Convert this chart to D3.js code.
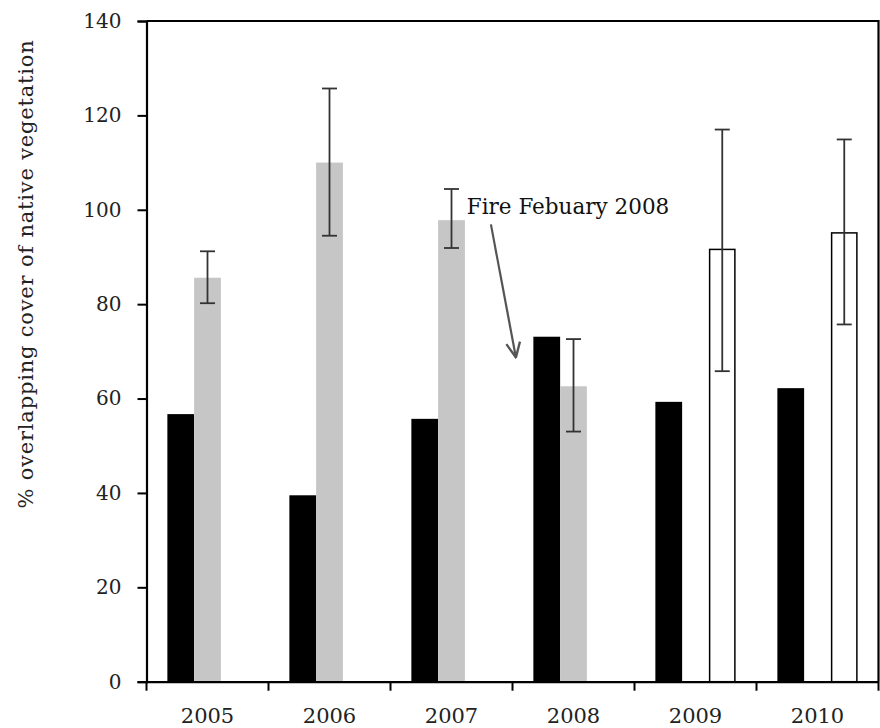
<!DOCTYPE html>
<html>
<head>
<meta charset="utf-8">
<script src="https://cdn.jsdelivr.net/npm/d3@7"></script>
<style>
  html, body { margin: 0; padding: 0; background: #fff; }
  svg { display: block; }
  text { font-family: "DejaVu Serif", "Liberation Serif", serif; }
</style>
</head>
<body>
<svg id="chart" width="880" height="728"></svg>
<script>
// ---- data ----
const years = ["2005", "2006", "2007", "2008", "2009", "2010"];
const seriesNames = ["black", "gray", "white"];
const blackValues = [56.7, 39.5, 55.7, 73.1, 59.3, 62.2];
const grayValues  = [85.6, 110.0, 97.8, 62.6, null, null];
const grayUpper   = [91.2, 125.7, 104.4, 72.6, null, null];
const grayLower   = [80.2, 94.5, 91.9, 53.0, null, null];
const whiteValues = [null, null, null, null, 91.6, 95.1];
const whiteUpper  = [null, null, null, null, 117.0, 114.9];
const whiteLower  = [null, null, null, null, 65.8, 75.7];
const yTicks = [0, 20, 40, 60, 80, 100, 120, 140];
const yLabel = "% overlapping cover  of  native vegetation";
const annotationText = "Fire Febuary 2008";
// annotation anchor in data units (category index, value)
const annotationTextPos = [2.625, 99.0];
const annotationArrow = [[2.823, 96.9], [3.028, 68.7]];

// ---- layout ----
const svg = d3.select("#chart");
const plotLeft = 146.5, plotRight = 878.5, plotTop = 21, plotBottom = 681.7;

const x = d3.scaleBand().domain(years).range([plotLeft, plotRight]).paddingInner(0).paddingOuter(0);
const x1 = d3.scaleBand().domain(seriesNames).range([0, x.bandwidth()]).paddingInner(0).paddingOuter(0.78);
const xi = d3.scaleLinear().domain([0, years.length]).range([plotLeft, plotRight]);
const y = d3.scaleLinear().domain([0, 140]).range([plotBottom, plotTop]);

const fills = { black: "#000000", gray: "#c6c6c6", white: "#ffffff" };
const valuesBy = { black: blackValues, gray: grayValues, white: whiteValues };

// bars
seriesNames.forEach(s => {
  const data = years.map((yr, i) => ({ yr, v: valuesBy[s][i] })).filter(d => d.v != null);
  svg.append("g").selectAll("rect").data(data).join("rect")
    .attr("x", d => x(d.yr) + x1(s) + (s === "white" ? 0.75 : 0))
    .attr("width", x1.bandwidth() - (s === "white" ? 1.5 : 0))
    .attr("y", d => y(d.v))
    .attr("height", d => y(0) - y(d.v))
    .attr("fill", fills[s])
    .attr("stroke", s === "white" ? "#000" : "none")
    .attr("stroke-width", s === "white" ? 1.5 : 0);
});

// error bars
const errData = [];
years.forEach((yr, i) => {
  if (grayUpper[i] != null) errData.push({ yr, s: "gray", hi: grayUpper[i], lo: grayLower[i] });
  if (whiteUpper[i] != null) errData.push({ yr, s: "white", hi: whiteUpper[i], lo: whiteLower[i] });
});
const eg = svg.append("g").attr("stroke", "#333").attr("stroke-width", 1.8);
const cap = 7.5;
errData.forEach(d => {
  const cx = x(d.yr) + x1(d.s) + x1.bandwidth() / 2;
  eg.append("line").attr("x1", cx).attr("x2", cx).attr("y1", y(d.hi)).attr("y2", y(d.lo));
  eg.append("line").attr("x1", cx - cap).attr("x2", cx + cap).attr("y1", y(d.hi)).attr("y2", y(d.hi));
  eg.append("line").attr("x1", cx - cap).attr("x2", cx + cap).attr("y1", y(d.lo)).attr("y2", y(d.lo));
});

// frame (top & right)
svg.append("path")
  .attr("d", `M${plotLeft},${y(140)}H${plotRight}V${y(0)}`)
  .attr("fill", "none").attr("stroke", "#000").attr("stroke-width", 2.2);

// y axis
const yAxis = svg.append("g").attr("transform", `translate(${plotLeft},0)`)
  .call(d3.axisLeft(y).tickValues(yTicks).tickSize(9).tickPadding(16).tickFormat(d3.format("d")));
yAxis.select(".domain").attr("stroke-width", 2.2);
yAxis.selectAll(".tick line").attr("stroke-width", 2);
yAxis.selectAll("text").attr("font-size", 20).attr("fill", "#222")
  .attr("font-family", "DejaVu Serif");

// x axis
const xAxis = svg.append("g").attr("transform", `translate(0,${plotBottom})`)
  .call(d3.axisBottom(x).tickSize(0).tickPadding(26));
xAxis.select(".domain").attr("stroke-width", 2.2);
xAxis.selectAll("text").attr("font-size", 21).attr("fill", "#222")
  .attr("font-family", "DejaVu Serif");
// x boundary ticks between categories
svg.append("g").selectAll("line").data(d3.range(years.length + 1)).join("line")
  .attr("x1", d => xi(d)).attr("x2", d => xi(d))
  .attr("y1", plotBottom).attr("y2", plotBottom + 9)
  .attr("stroke", "#000").attr("stroke-width", 2);

// y label
svg.append("text")
  .attr("transform", `translate(33,274) rotate(-90)`)
  .attr("text-anchor", "middle")
  .attr("font-size", 21)
  .attr("letter-spacing", 0.8)
  .attr("fill", "#222")
  .text(yLabel);

// annotation
svg.append("text")
  .attr("x", xi(annotationTextPos[0])).attr("y", y(annotationTextPos[1]))
  .attr("font-size", 21.5).attr("fill", "#111")
  .text(annotationText);

svg.append("defs").append("marker")
  .attr("id", "arrow").attr("viewBox", "0 0 16 16").attr("refX", 15).attr("refY", 8)
  .attr("markerWidth", 17).attr("markerHeight", 17).attr("markerUnits", "userSpaceOnUse")
  .attr("orient", "auto")
  .append("path").attr("d", "M1,1.5 L15,8 L1,14.5").attr("fill", "none")
  .attr("stroke", "#555").attr("stroke-width", 2.2);

svg.append("line")
  .attr("x1", xi(annotationArrow[0][0])).attr("y1", y(annotationArrow[0][1]))
  .attr("x2", xi(annotationArrow[1][0])).attr("y2", y(annotationArrow[1][1]))
  .attr("stroke", "#555").attr("stroke-width", 2.2)
  .attr("marker-end", "url(#arrow)");
</script>
</body>
</html>
